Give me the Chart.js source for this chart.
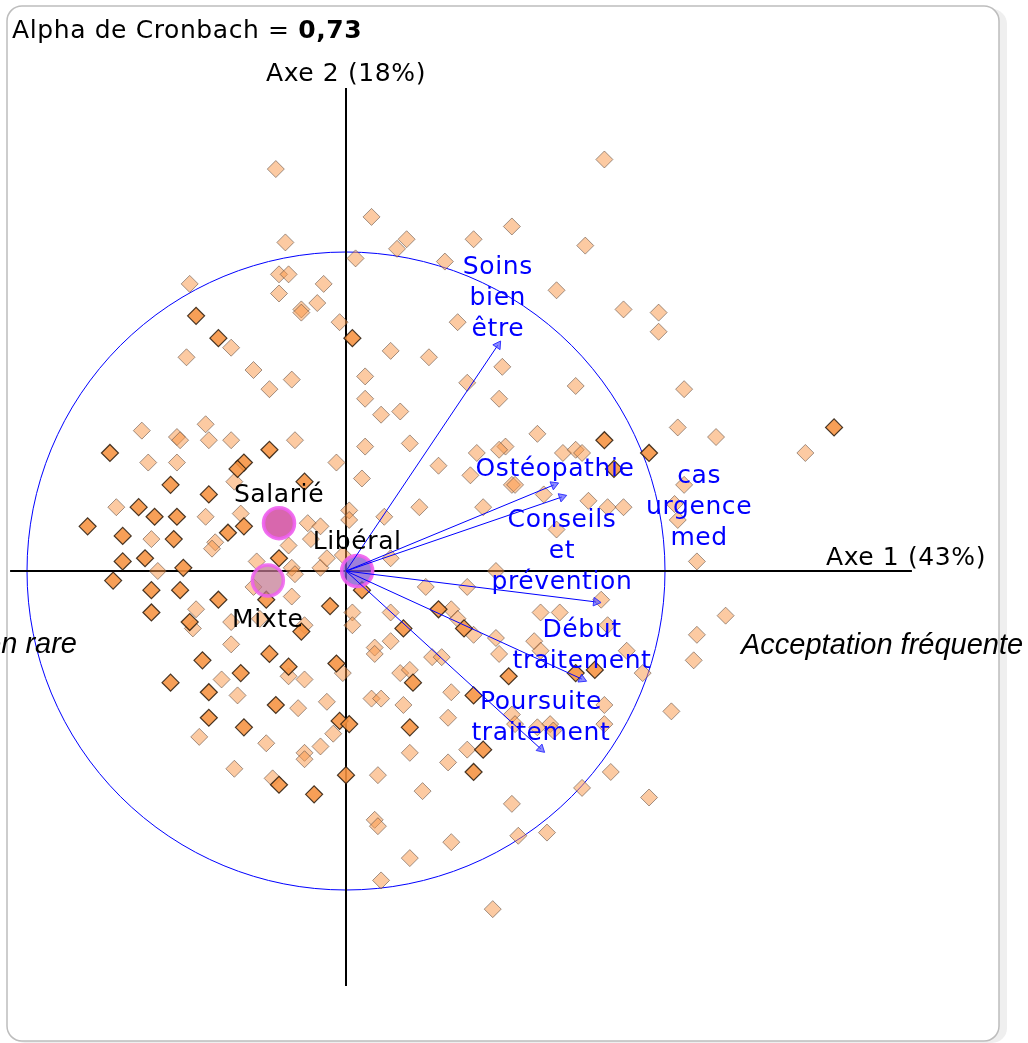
<!DOCTYPE html>
<html>
<head>
<meta charset="utf-8">
<script src="https://cdn.jsdelivr.net/npm/chart.js@4.4.0/dist/chart.umd.min.js"></script>
<style>
  html, body { margin: 0; padding: 0; background: #fff; }
  #wrap { width: 1028px; height: 1043px; }
</style>
</head>
<body>
<div id="wrap"><canvas id="acpChart" width="1028" height="1043"></canvas></div>
<script>
// individuals on the factorial plane (correlation circle radius = 1)
var lightPoints = [
  [-0.22,1.26],[-0.19,1.03],[-0.21,0.93],[-0.18,0.93],[-0.49,0.90],[-0.07,0.90],[-0.21,0.87],[-0.09,0.84],
  [-0.14,0.82],[-0.14,0.81],[-0.02,0.78],[-0.36,0.70],[-0.50,0.67],[-0.29,0.63],[-0.17,0.60],[-0.24,0.57],
  [0.81,1.29],[0.08,1.11],[0.52,1.08],[0.19,1.04],[0.40,1.04],[0.16,1.01],[0.75,1.02],[0.03,0.98],
  [0.31,0.97],[0.66,0.88],[0.35,0.78],[0.14,0.69],[0.26,0.67],[0.49,0.64],[0.06,0.61],[0.38,0.59],
  [0.72,0.58],[0.06,0.54],[0.48,0.54],[0.11,0.49],[0.17,0.50],
  [0.87,0.82],[0.98,0.81],[0.98,0.75],[1.06,0.57],[1.04,0.45],[1.16,0.42],[1.44,0.37],
  [-0.64,0.44],[-0.44,0.46],[-0.53,0.42],[-0.52,0.41],[-0.43,0.41],[-0.36,0.41],[-0.16,0.41],[-0.62,0.34],
  [-0.53,0.34],[-0.03,0.34],[-0.35,0.28],[-0.72,0.20],[-0.44,0.17],[-0.33,0.18],[-0.61,0.10],[-0.41,0.09],
  [-0.42,0.07],[-0.59,0.00],[-0.47,-0.12],[-0.48,-0.18],[-0.36,-0.16],[-0.36,-0.23],[-0.12,0.15],[-0.08,0.14],
  [-0.18,0.08],[-0.28,0.03],[-0.17,0.01],[-0.16,-0.01],[-0.08,0.01],[-0.06,0.04],[-0.11,0.10],[-0.29,-0.05],
  [-0.17,-0.08],[-0.13,-0.17],[-0.27,-0.15],[0.01,0.19],[0.01,0.16],[0.02,-0.13],[-0.01,0.05],
  [-0.01,-0.32],[-0.39,-0.34],[-0.18,-0.33],[-0.13,-0.34],[-0.34,-0.39],[-0.15,-0.43],[-0.06,-0.41],[-0.04,-0.51],
  [-0.46,-0.52],[-0.25,-0.54],[-0.08,-0.55],[-0.13,-0.57],[-0.13,-0.59],[-0.35,-0.62],[-0.23,-0.65],
  [0.60,0.43],[0.06,0.39],[0.20,0.40],[0.41,0.37],[0.50,0.39],[0.48,0.38],[0.68,0.37],[0.72,0.38],
  [0.74,0.37],[0.29,0.33],[0.39,0.30],[0.52,0.27],[0.53,0.27],[0.05,0.29],[0.62,0.24],[0.23,0.20],
  [0.43,0.20],[0.76,0.22],[0.82,0.20],[0.87,0.20],[0.12,0.17],[0.66,0.13],[0.14,0.04],[0.47,0.00],
  [0.25,-0.05],[0.38,-0.05],[0.80,-0.09],[0.02,-0.17],[0.14,-0.13],[0.33,-0.12],[0.35,-0.15],[0.40,-0.20],
  [0.61,-0.13],[0.67,-0.13],[0.59,-0.22],[0.47,-0.21],[0.82,-0.17],[0.88,-0.25],[0.14,-0.22],[0.09,-0.24],
  [0.09,-0.26],[0.61,-0.25],[0.48,-0.26],[0.27,-0.27],[0.30,-0.27],[0.17,-0.32],[0.20,-0.31],[0.33,-0.38],
  [0.08,-0.40],[0.11,-0.40],[0.18,-0.42],[0.81,-0.42],[0.52,-0.45],[0.53,-0.48],[0.64,-0.48],[0.65,-0.50],
  [0.60,-0.49],[0.32,-0.46],[0.81,-0.48],[0.38,-0.56],[0.20,-0.57],[0.32,-0.60],[0.10,-0.64],[0.24,-0.69],
  [0.74,-0.68],[0.83,-0.63],[0.52,-0.73],[0.09,-0.78],[0.10,-0.80],[0.54,-0.83],[0.63,-0.82],[0.33,-0.85],
  [0.20,-0.90],[0.11,-0.97],[0.46,-1.06],[0.95,-0.71],
  [1.06,0.27],[1.03,0.21],[1.04,0.16],[1.10,0.03],[1.19,-0.14],[1.10,-0.20],[1.09,-0.28],[0.93,-0.32],[1.02,-0.44]
];
var darkPoints = [
  [-0.47,0.80],[-0.40,0.73],[0.02,0.73],[1.53,0.45],[0.81,0.41],[0.95,0.37],
  [-0.74,0.37],[-0.24,0.38],[-0.32,0.34],[-0.34,0.32],[-0.55,0.27],[-0.43,0.24],[-0.13,0.28],[-0.65,0.20],
  [-0.60,0.17],[-0.53,0.17],[-0.32,0.14],[-0.81,0.14],[-0.70,0.11],[-0.54,0.10],[-0.37,0.12],[-0.70,0.03],
  [-0.63,0.04],[-0.51,0.01],[-0.73,-0.03],[-0.61,-0.06],[-0.52,-0.06],[-0.40,-0.09],[-0.61,-0.13],[-0.49,-0.16],
  [-0.21,0.04],[-0.25,-0.09],[-0.05,-0.11],[-0.14,-0.19],[-0.45,-0.28],[-0.24,-0.26],
  [-0.03,-0.29],[-0.18,-0.30],[-0.55,-0.35],[-0.33,-0.32],[-0.43,-0.38],[-0.22,-0.42],[-0.43,-0.46],[-0.32,-0.49],
  [-0.02,-0.47],[0.01,-0.48],[-0.21,-0.67],[0.00,-0.64],[-0.10,-0.70],
  [0.05,-0.06],[0.29,-0.12],[0.37,-0.18],[0.18,-0.18],
  [0.21,-0.35],[0.51,-0.33],[0.72,-0.32],[0.78,-0.31],[0.40,-0.39],[0.20,-0.49],[0.43,-0.56],[0.40,-0.63],[0.84,0.32]
];

// modalities (supplementary)
var groupNames = ["Salarié", "Mixte", "Libéral"];
var groupX = [-0.21, -0.245, 0.035];
var groupY = [0.15, -0.03, 0.0];

// variables (arrows)
var varNames = [["Soins", "bien", "être"], ["Ostéopathie"], ["Conseils", "et", "prévention"],
                ["cas", "urgence", "med"], ["Début", "traitement"], ["Poursuite", "traitement"]];
var varX = [0.476, 0.652, 0.677, 0.784, 0.740, 0.611];
var varY = [0.708, 0.270, 0.232, -0.097, -0.339, -0.558];

var axisTitles = ["Axe 1 (43%)", "Axe 2 (18%)"];
var poleLabels = ["Acceptation rare", "Acceptation fréquente"];
var cronbachLabel = "Alpha de Cronbach = ";
var cronbachValue = "0,73";

//--------------
//- LAYOUT     -
//--------------
var W = 1028, H = 1043;
var ORIGIN = { x: 346, y: 571 }; // pixel of (0,0)
var UNIT = 319;                  // pixels per unit
var FONT = "'DejaVu Sans', Verdana, sans-serif";
var SPACING = "0.6px";

var groupFill = ["rgba(205,60,150,0.78)", "rgba(195,120,145,0.72)", "rgba(125,85,205,0.75)"];
var groupBorder = ["rgba(238,95,238,0.9)", "rgba(238,95,238,0.85)", "rgba(238,95,238,0.9)"];
var groupLabelDy = [-21, 46, -22];
// [dx, dy of first baseline] from the arrow tip, 31px line step
var varLabelOff = [[0, -71], [1, -9], [0, 30], [103, -119], [0, -42], [0, -40]];

function roundRect(ctx, x, y, w, h, r) {
  ctx.beginPath();
  ctx.moveTo(x + r, y);
  ctx.arcTo(x + w, y, x + w, y + h, r);
  ctx.arcTo(x + w, y + h, x, y + h, r);
  ctx.arcTo(x, y + h, x, y, r);
  ctx.arcTo(x, y, x + w, y, r);
  ctx.closePath();
}

function drawText(ctx, s, x, y, font, color, align, spacing) {
  ctx.font = font;
  ctx.fillStyle = color;
  ctx.textAlign = align || "left";
  ctx.textBaseline = "alphabetic";
  if ("letterSpacing" in ctx) ctx.letterSpacing = spacing || "0px";
  ctx.fillText(s, x, y);
  var w = ctx.measureText(s).width;
  if ("letterSpacing" in ctx) ctx.letterSpacing = "0px";
  return w;
}

var framePlugin = {
  id: "frame",
  beforeDraw: function (chart) {
    var ctx = chart.ctx;
    ctx.save();
    ctx.fillStyle = "#fff";
    ctx.fillRect(0, 0, W, H);
    ctx.fillStyle = "#efefef";
    roundRect(ctx, 10, 9, 997, 1034, 15);
    ctx.fill();
    ctx.fillStyle = "#fff";
    roundRect(ctx, 7, 6, 992, 1035, 15);
    ctx.fill();
    ctx.strokeStyle = "#bdbdbd";
    ctx.lineWidth = 1.5;
    ctx.stroke();
    ctx.restore();
  },
  beforeDatasetsDraw: function (chart) {
    // correlation circle
    var ctx = chart.ctx, sx = chart.scales.x, sy = chart.scales.y;
    var cx = sx.getPixelForValue(0), cy = sy.getPixelForValue(0);
    var r = sx.getPixelForValue(1) - cx;
    ctx.save();
    ctx.strokeStyle = "#0000ff";
    ctx.lineWidth = 1;
    ctx.beginPath();
    ctx.arc(cx, cy, r, 0, Math.PI * 2);
    ctx.stroke();
    ctx.restore();
  },
  afterDatasetsDraw: function (chart) {
    var ctx = chart.ctx, sx = chart.scales.x, sy = chart.scales.y;
    var f = "25px " + FONT;
    ctx.save();
    // title
    var w = drawText(ctx, cronbachLabel, 12, 38, f, "#000", "left", SPACING);
    drawText(ctx, cronbachValue, 12 + w, 38, "bold " + f, "#000", "left", SPACING);
    // axis titles
    drawText(ctx, axisTitles[1], sx.getPixelForValue(0), 81, f, "#000", "center", SPACING);
    drawText(ctx, axisTitles[0], 826, sy.getPixelForValue(0) - 6, f, "#000", "left", SPACING);
    // poles of axis 1
    var fi = "italic 29px 'Liberation Sans', Arial, sans-serif";
    drawText(ctx, poleLabels[1], 741, sy.getPixelForValue(0) + 83, fi, "#000", "left");
    drawText(ctx, poleLabels[0], 77, sy.getPixelForValue(0) + 82, fi, "#000", "right");
    // modalities
    for (var i = 0; i < groupNames.length; i++) {
      drawText(ctx, groupNames[i], sx.getPixelForValue(groupX[i]), sy.getPixelForValue(groupY[i]) + groupLabelDy[i],
        f, "#000", "center", SPACING);
    }
    // variables
    for (var j = 0; j < varNames.length; j++) {
      var tx = sx.getPixelForValue(varX[j]) + varLabelOff[j][0];
      var ty = sy.getPixelForValue(varY[j]) + varLabelOff[j][1];
      for (var k = 0; k < varNames[j].length; k++) {
        drawText(ctx, varNames[j][k], tx, ty + k * 31, f, "#0000ff", "center", SPACING);
      }
    }
    ctx.restore();
  }
};

function toXY(arr) {
  return arr.map(function (p) { return { x: p[0], y: p[1] }; });
}

var datasets = [
  {
    label: "axe1", data: [{ x: -1.053, y: 0 }, { x: 1.774, y: 0 }],
    showLine: true, borderColor: "#000", borderWidth: 2, pointRadius: 0, order: 10
  },
  {
    label: "axe2", data: [{ x: 0, y: 1.514 }, { x: 0, y: -1.301 }],
    showLine: true, borderColor: "#000", borderWidth: 2, pointRadius: 0, order: 10
  },
  {
    label: "light", data: toXY(lightPoints),
    pointStyle: "rectRot", pointRadius: 8.5,
    backgroundColor: "rgba(250,150,70,0.5)", pointBackgroundColor: "rgba(250,150,70,0.5)",
    borderColor: "rgba(85,70,60,0.55)", pointBorderColor: "rgba(85,70,60,0.55)", pointBorderWidth: 1, order: 6
  },
  {
    label: "dark", data: toXY(darkPoints),
    pointStyle: "rectRot", pointRadius: 8.5,
    backgroundColor: "rgba(246,146,64,0.88)", pointBackgroundColor: "rgba(246,146,64,0.88)",
    borderColor: "rgba(40,25,10,0.85)", pointBorderColor: "rgba(40,25,10,0.85)", pointBorderWidth: 1.2, order: 5
  },
  {
    label: "groups", data: groupX.map(function (x, i) { return { x: x, y: groupY[i] }; }),
    pointStyle: "circle", pointRadius: 15.5,
    pointBackgroundColor: groupFill, pointBorderColor: groupBorder, pointBorderWidth: 3.5, order: 4
  }
];

varX.forEach(function (x, i) {
  var ang = Math.atan2(varY[i], x) * 180 / Math.PI;
  datasets.push({
    label: varNames[i].join(" "),
    data: [{ x: 0, y: 0 }, { x: x, y: varY[i] }],
    showLine: true, borderColor: "#0000ff", borderWidth: 1,
    pointStyle: "triangle", pointRadius: [0, 5], pointRotation: [0, 90 - ang],
    pointBackgroundColor: "rgba(90,90,255,0.7)", pointBorderColor: "rgba(40,40,255,0.9)", pointBorderWidth: 1,
    order: 2
  });
});

var ctx = document.getElementById("acpChart").getContext("2d");
var acpChart = new Chart(ctx, {
  type: "scatter",
  data: { datasets: datasets },
  options: {
    responsive: false,
    animation: false,
    devicePixelRatio: 1,
    events: [],
    layout: { padding: 0, autoPadding: false },
    plugins: { legend: { display: false }, tooltip: { enabled: false } },
    scales: {
      x: { type: "linear", display: false, min: -ORIGIN.x / UNIT, max: (W - ORIGIN.x) / UNIT },
      y: { type: "linear", display: false, min: (ORIGIN.y - H) / UNIT, max: ORIGIN.y / UNIT }
    }
  },
  plugins: [framePlugin]
});
</script>
</body>
</html>
